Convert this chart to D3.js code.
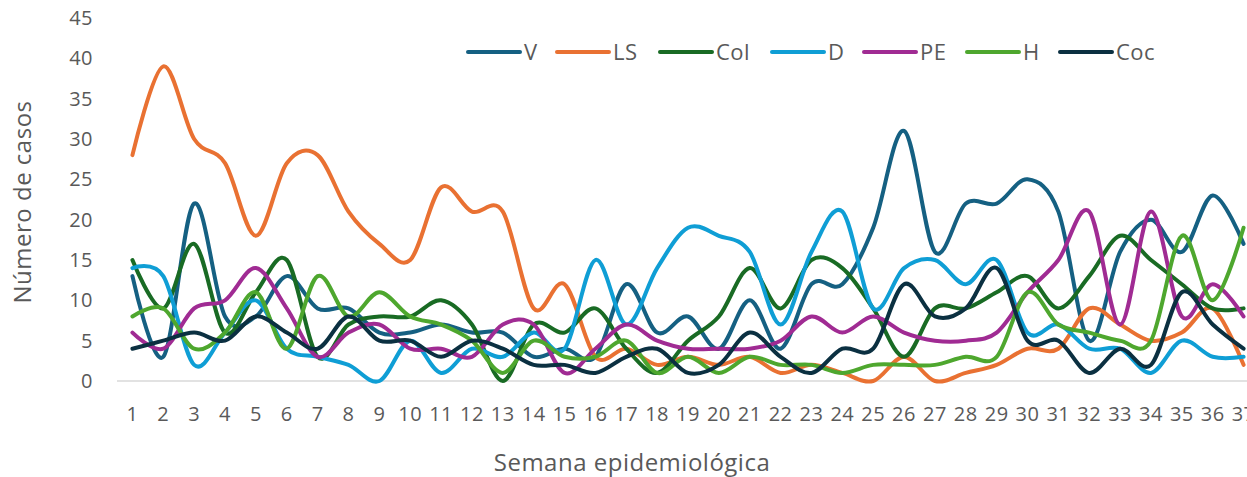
<!DOCTYPE html>
<html>
<head>
<meta charset="utf-8">
<script src="https://cdn.jsdelivr.net/npm/d3@7"></script>
<style>
  body { margin: 0; background: #fff; }
  text { font-family: "Open Sans", sans-serif; fill: #595959; }
</style>
</head>
<body>
<div id="chart"></div>
<script>
// weeks 1..37
var weeks = d3.range(1, 38);

var seriesNames = ["V", "LS", "Col", "D", "PE", "H", "Coc"];
var seriesColors = ["#156082", "#E97132", "#196B24", "#0F9ED5", "#A02B93", "#4EA72E", "#0B3041"];

var V   = [13,3,22,8,8,13,9,9,6,6,7,6,6,3,4,3,12,6,8,4,10,4,12,12,19,31,16,22,22,25,21,5,16,20,16,23,17];
var LS  = [28,39,30,27,18,27,28,21,17,15,24,21,21,9,12,3,4,2,3,2,3,1,2,1,0,3,0,1,2,4,4,9,7,5,6,9,2];
var Col = [15,9,17,6,11,15,3,7,8,8,10,7,0,7,6,9,4,1,5,8,14,9,15,14,9,3,9,9,11,13,9,13,18,15,12,9,9];
var D   = [14,13,2,6,10,4,3,2,0,5,1,4,3,6,4,15,7,14,19,18,16,7,16,21,9,14,15,12,15,6,7,4,4,1,5,3,3];
var PE  = [6,4,9,10,14,9,3,6,7,4,4,3,7,7,1,4,7,5,4,4,4,5,8,6,8,6,5,5,6,11,15,21,7,21,8,12,8];
var H   = [8,9,4,6,11,4,13,8,11,8,7,5,1,5,3,3,5,1,3,1,3,2,2,1,2,2,2,3,3,11,7,6,5,5,18,10,19];
var Coc = [4,5,6,5,8,6,4,8,5,5,3,5,4,2,2,1,3,4,1,2,6,3,1,4,4,12,8,9,14,5,5,1,4,2,11,7,4];

var yTicks = [0,5,10,15,20,25,30,35,40,45];

var allSeries = [V, LS, Col, D, PE, H, Coc];

var width = 1247, height = 477;

var svg = d3.select("#chart").append("svg")
    .attr("width", width)
    .attr("height", height);

var x = d3.scalePoint()
    .domain(weeks)
    .range([117, 1259])
    .padding(0.5);

var y = d3.scaleLinear()
    .domain([0, 45])
    .range([381, 18]);

// baseline
svg.append("line")
    .attr("x1", 117)
    .attr("x2", 1259)
    .attr("y1", y(0))
    .attr("y2", y(0))
    .attr("stroke", "#d9d9d9")
    .attr("stroke-width", 1.5);

// y tick labels
svg.selectAll(".ytick")
    .data(yTicks)
    .enter().append("text")
    .attr("class", "ytick")
    .attr("x", 93)
    .attr("y", function(d) { return y(d) + 7; })
    .attr("text-anchor", "end")
    .style("font-size", "20px")
    .style("letter-spacing", "0.5px")
    .text(function(d) { return d; });

// x tick labels
svg.selectAll(".xtick")
    .data(weeks)
    .enter().append("text")
    .attr("class", "xtick")
    .attr("x", function(d) { return x(d); })
    .attr("y", 421)
    .attr("text-anchor", "middle")
    .style("font-size", "20px")
    .style("letter-spacing", "0.5px")
    .text(function(d) { return d; });

// axis titles
svg.append("text")
    .attr("transform", "translate(31,202) rotate(-90)")
    .attr("text-anchor", "middle")
    .style("font-size", "24px")
    .style("letter-spacing", "0.5px")
    .text("Número de casos");

svg.append("text")
    .attr("x", 632)
    .attr("y", 471)
    .attr("text-anchor", "middle")
    .style("font-size", "24px")
    .style("letter-spacing", "0.5px")
    .text("Semana epidemiológica");

// lines
var line = d3.line()
    .x(function(d, i) { return x(weeks[i]); })
    .y(function(d) { return y(d); })
    .curve(d3.curveCatmullRom.alpha(0));

svg.selectAll(".series")
    .data(allSeries)
    .enter().append("path")
    .attr("class", "series")
    .attr("d", function(d) { return line(d); })
    .attr("fill", "none")
    .attr("stroke", function(d, i) { return seriesColors[i]; })
    .attr("stroke-width", 4)
    .attr("stroke-linecap", "round")
    .attr("stroke-linejoin", "round");

// legend
var legendX = [468, 557, 660, 772, 864, 967, 1060];
var legend = svg.selectAll(".legend")
    .data(seriesNames)
    .enter().append("g")
    .attr("class", "legend")
    .attr("transform", function(d, i) { return "translate(" + legendX[i] + ",52)"; });

legend.append("line")
    .attr("x1", 0)
    .attr("x2", 52)
    .attr("y1", 0)
    .attr("y2", 0)
    .attr("stroke", function(d, i) { return seriesColors[i]; })
    .attr("stroke-width", 4)
    .attr("stroke-linecap", "round");

legend.append("text")
    .attr("x", 56)
    .attr("y", 8)
    .style("font-size", "22px")
    .style("letter-spacing", "0.5px")
    .text(function(d) { return d; });
</script>
</body>
</html>
